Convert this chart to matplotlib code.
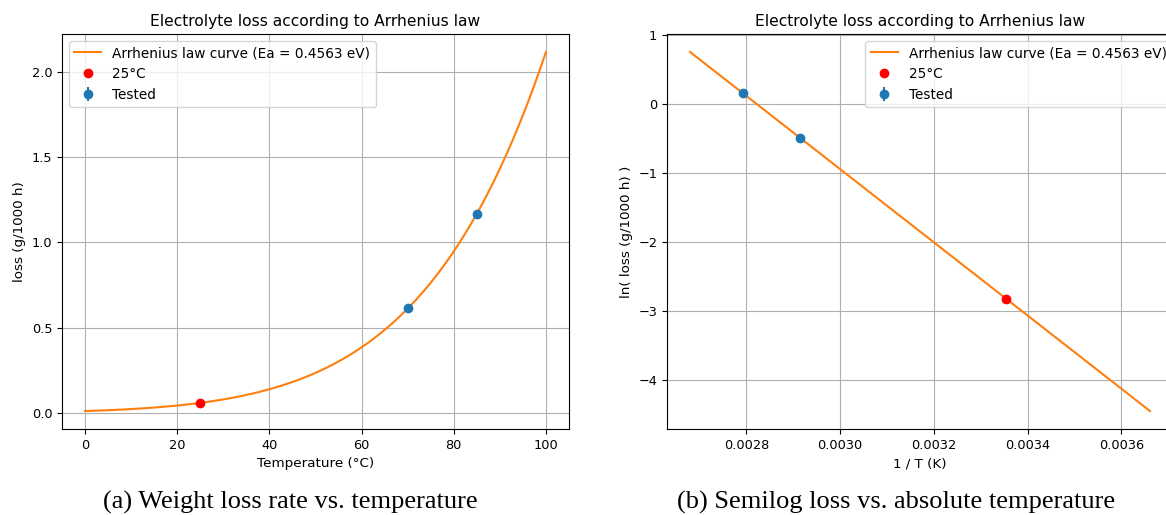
import numpy as np
import matplotlib
matplotlib.use("Agg")
import matplotlib.pyplot as plt

# fitted activation energy and reference loss at 25 C
EA = 0.4563          # eV
KB = 8.617333e-5     # eV/K
L25 = 0.0596         # g/1000 h at 25 C
T_REF = 25

# tested points
t_tested = [70, 85]
loss_tested = [0.613, 1.167]
loss_err = [0.004, 0.006]

# curve range (degC)
t_curve = np.linspace(0, 100, 200)

def arrhenius(t):
    tk = np.asarray(t) + 273.15
    return L25 * np.exp(-EA / KB * (1 / tk - 1 / (T_REF + 273.15)))

loss_curve = arrhenius(t_curve)
inv_curve = 1 / (t_curve + 273.15)
inv_tested = 1 / (np.array(t_tested) + 273.15)
inv_ref = 1 / (T_REF + 273.15)
ln_err = np.array(loss_err) / np.array(loss_tested)

plt.rcParams["font.size"] = 9.3
plt.rcParams["axes.titlesize"] = 11.2
plt.rcParams["axes.labelsize"] = 9.7
plt.rcParams["legend.fontsize"] = 9.8

fig = plt.figure(figsize=(11.66, 5.15), dpi=100)
W, H = 1166, 515
ax1 = fig.add_axes([62 / W, 1 - 429 / H, 507 / W, 395 / H])
ax2 = fig.add_axes([667 / W, 1 - 429 / H, 506 / W, 395 / H])

# (a) linear
ax1.plot(t_curve, loss_curve, color="C1", label="Arrhenius law curve (Ea = %.4f eV)" % EA)
ax1.plot(T_REF, L25, "o", color="red", label="25°C")
ax1.errorbar(t_tested, loss_tested, yerr=loss_err, fmt="o", color="C0", label="Tested")
ax1.set_title("Electrolyte loss according to Arrhenius law")
ax1.set_xlabel("Temperature (°C)")
ax1.set_ylabel("loss (g/1000 h)")
ax1.grid(True)
ax1.legend(loc="upper left")

# (b) semilog
ax2.plot(inv_curve, np.log(loss_curve), color="C1", label="Arrhenius law curve (Ea = %.4f eV)" % EA)
ax2.plot(inv_ref, np.log(L25), "o", color="red", label="25°C")
ax2.errorbar(inv_tested, np.log(loss_tested), yerr=ln_err, fmt="o", color="C0", label="Tested")
ax2.set_title("Electrolyte loss according to Arrhenius law")
ax2.set_xlabel("1 / T (K)")
ax2.set_ylabel("ln( loss (g/1000 h) )")
ax2.grid(True)
ax2.legend(loc="upper left", bbox_to_anchor=(0.378, 1))

fig.text(290 / W, 1 - 502 / H, "(a) Weight loss rate vs. temperature",
         family="Liberation Serif", fontsize=19, ha="center", va="center")
fig.text(896 / W, 1 - 502 / H, "(b) Semilog loss vs. absolute temperature",
         family="Liberation Serif", fontsize=19, ha="center", va="center")

fig.savefig("out.png", dpi=100)
